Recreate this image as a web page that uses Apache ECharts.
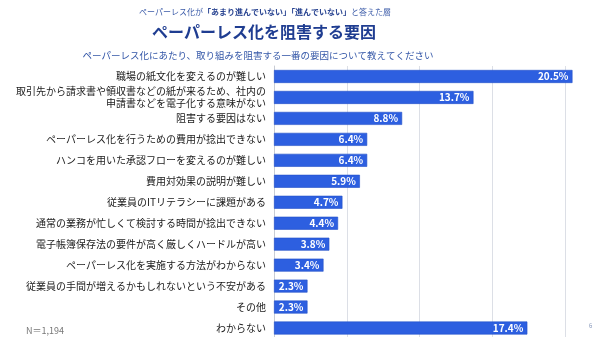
<!DOCTYPE html>
<html><head><meta charset="utf-8">
<script src="https://cdn.jsdelivr.net/npm/echarts@6/dist/echarts.min.js"></script>
<style>html,body{margin:0;padding:0;background:#fff}#c{width:600px;height:337px}</style>
</head><body><div id="c"></div>
<script>
const categories = [
  "職場の紙文化を変えるのが難しい",
  "取引先から請求書や領収書などの紙が来るため、社内の\n申請書などを電子化する意味がない",
  "阻害する要因はない",
  "ペーパーレス化を行うための費用が捻出できない",
  "ハンコを用いた承認フローを変えるのが難しい",
  "費用対効果の説明が難しい",
  "従業員のITリテラシーに課題がある",
  "通常の業務が忙しくて検討する時間が捻出できない",
  "電子帳簿保存法の要件が高く厳しくハードルが高い",
  "ペーパーレス化を実施する方法がわからない",
  "従業員の手間が増えるかもしれないという不安がある",
  "その他",
  "わからない"
];
const values = [20.5, 13.7, 8.8, 6.4, 6.4, 5.9, 4.7, 4.4, 3.8, 3.4, 2.3, 2.3, 17.4];
const headerText = "ペーパーレス化が{b|「あまり進んでいない」「進んでいない」}と答えた層";
const titleText = "ペーパーレス化を阻害する要因";
const questionText = "ペーパーレス化にあたり、取り組みを阻害する一番の要因について教えてください";
const sampleText = "N＝1,194";
const pageText = "6";

const FONT = '"Noto Sans CJK JP", "Noto Sans", sans-serif';
const chart = echarts.init(document.getElementById('c'));
chart.setOption({
  animation: false,
  textStyle: { fontFamily: FONT },
  title: [
    { text: headerText, left: 260, top: 3, textAlign: 'center',
      textStyle: { fontSize: 8, fontWeight: 'normal', color: '#3a5aa8', fontFamily: FONT,
        rich: { b: { fontSize: 8, fontWeight: 'bold', color: '#2a4592', fontFamily: FONT } } } },
    { text: titleText, left: 259, top: 19, textAlign: 'center',
      textStyle: { fontSize: 16, fontWeight: 'bold', color: '#1f3d91', fontFamily: FONT } },
    { text: questionText, left: 253, top: 46, textAlign: 'center',
      textStyle: { fontSize: 9.5, fontWeight: 'normal', color: '#3457a8', fontFamily: FONT } },
    { text: sampleText, left: 21, top: 321,
      textStyle: { fontSize: 9, fontWeight: 'normal', color: '#777', fontFamily: FONT } },
    { text: pageText, left: 584, top: 318,
      textStyle: { fontSize: 6, fontWeight: 'normal', color: '#8899bb', fontFamily: FONT } }
  ],
  grid: { left: 274, top: 66, width: 364, height: 272.5, containLabel: false, outerBoundsMode: 'none' },
  xAxis: {
    type: 'value', min: 0, max: 25, interval: 5,
    axisLabel: { show: false }, axisTick: { show: false }, axisLine: { show: false },
    splitLine: { show: true, lineStyle: { color: '#dcdfe6', width: 1 } }
  },
  yAxis: {
    type: 'category', data: categories, inverse: true,
    axisTick: { show: false },
    axisLine: { show: true, lineStyle: { color: '#c8ccd4', width: 1 } },
    axisLabel: { fontSize: 10, color: '#1a1a1a', margin: 8, lineHeight: 12, fontFamily: FONT }
  },
  series: [{
    type: 'bar', data: values, barWidth: 13,
    itemStyle: { color: '#2d5fe0', borderColor: '#2450c8', borderWidth: 0.6 },
    label: { show: true, position: 'insideRight', distance: 4, formatter: '{c}%',
      color: '#fff', fontSize: 10, fontWeight: 'bold', fontFamily: FONT }
  }]
});
</script></body></html>
